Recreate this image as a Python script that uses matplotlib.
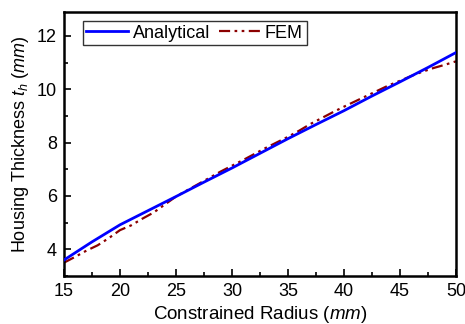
import matplotlib
matplotlib.use("Agg")
import matplotlib.pyplot as plt
from matplotlib.ticker import MultipleLocator

plt.rcParams['font.family'] = ['Liberation Sans', 'DejaVu Sans']
plt.rcParams['mathtext.fontset'] = 'custom'
plt.rcParams['mathtext.rm'] = 'Liberation Sans'
plt.rcParams['mathtext.it'] = 'Liberation Sans:italic'

# data
radius = [15, 17.5, 20, 22.5, 25, 27.5, 30, 32.5, 35, 37.5, 40, 42.5, 45, 47.5, 50]
analytical = [3.6, 4.28, 4.92, 5.45, 5.98, 6.52, 7.05, 7.6, 8.15, 8.68, 9.2, 9.75, 10.28, 10.82, 11.38]
fem_radius = [15, 16, 17, 18, 19, 20, 21, 22, 23, 24, 25, 27, 29, 31, 33, 35, 36, 37, 38, 39, 40, 41, 42, 43, 44, 45, 46, 47, 48, 49, 50]
fem = [3.5, 3.72, 3.95, 4.15, 4.42, 4.72, 4.9, 5.15, 5.38, 5.68, 5.98, 6.45, 6.92, 7.35, 7.8, 8.22, 8.45, 8.7, 8.92, 9.14, 9.35, 9.55, 9.75, 9.95, 10.15, 10.32, 10.5, 10.66, 10.8, 10.92, 11.05]

fig = plt.figure(figsize=(4.65, 3.24), dpi=100)
ax = fig.add_axes([64 / 465, 48 / 324, 392 / 465, 264 / 324])

ax.plot(radius, analytical, color='#0000ff', lw=2, label='Analytical', zorder=3)
ax.plot(fem_radius, fem, color='#8b0000', lw=1.6, dashes=[5, 2, 1.2, 2, 1.2, 2],
        label='FEM', zorder=2)

ax.set_xlim(15, 50)
ax.set_ylim(3, 12.9)
ax.xaxis.set_major_locator(MultipleLocator(5))
ax.xaxis.set_minor_locator(MultipleLocator(2.5))
ax.yaxis.set_major_locator(MultipleLocator(2))
ax.yaxis.set_minor_locator(MultipleLocator(1))
ax.tick_params(which='both', direction='in', top=False, right=False,
               labelsize=13, width=1.2, pad=5)
ax.tick_params(which='major', length=5)
ax.tick_params(which='minor', length=3)
for s in ax.spines.values():
    s.set_linewidth(1.8)

ax.set_xlabel('Constrained Radius ($mm$)', fontsize=13.5, labelpad=3)
ax.set_ylabel('Housing Thickness $t_h$ ($mm$)', fontsize=13, labelpad=4)

leg = ax.legend(loc='upper left', ncol=2, fontsize=13, frameon=True, fancybox=False,
                edgecolor='black', handlelength=2.3, handletextpad=0.25,
                columnspacing=0.5, borderpad=0.2, borderaxespad=0.5,
                bbox_to_anchor=(0.025, 1.0))
leg.get_frame().set_linewidth(1.0)

fig.savefig('out.png', dpi=100)
